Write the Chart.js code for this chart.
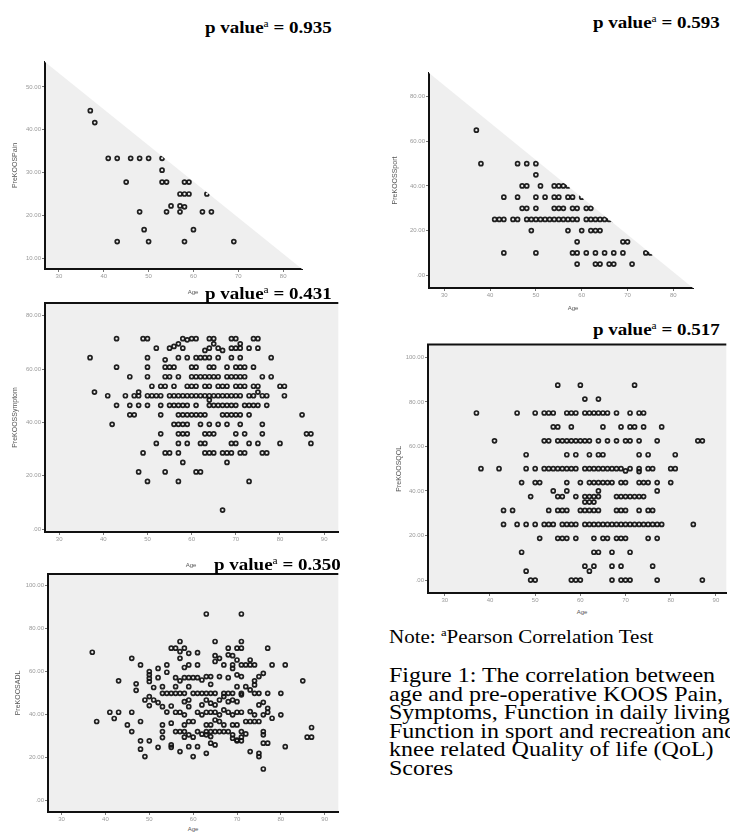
<!DOCTYPE html>
<html>
<head>
<meta charset="utf-8">
<script src="https://cdn.jsdelivr.net/npm/chart.js@4.4.1/dist/chart.umd.min.js"></script>
<style>
  body { margin: 0; width: 730px; height: 836px; background: #fff; position: relative; overflow: hidden; }
  .panel { position: absolute; }
  .serif { position: absolute; white-space: nowrap; line-height: 1; font-family: "Liberation Serif", "Times New Roman", serif;
           color: #000; transform-origin: 0 50%; transform: scaleY(0.85); }
  .pv { font-weight: bold; font-size: 19px; }
  .serif sup { font-size: 0.6em; font-weight: normal; vertical-align: 0.65em; line-height: 0; }
  .age { position: absolute; font: 6px "Liberation Sans", Arial, sans-serif; color: #555; transform: translate(-50%, -50%); }
</style>
</head>
<body>
<div class="panel" id="p1"><canvas id="c1"></canvas></div>
<div class="panel" id="p2"><canvas id="c2"></canvas></div>
<div class="panel" id="p3"><canvas id="c3"></canvas></div>
<div class="panel" id="p4"><canvas id="c4"></canvas></div>
<div class="panel" id="p5"><canvas id="c5"></canvas></div>
<div id="texts"></div>
<script>
'use strict';

// ── Data ─────────────────────────────────────────────────────────────────────

const pValues = ['0.935', '0.593', '0.431', '0.517', '0.350'];
const yTitles = ['PreKOOSPain', 'PreKOOSSport', 'PreKOOSSymptom', 'PreKOOSQOL', 'PreKOOSADL'];
const xTitle = 'Age';

// [age, score]
const painPoints = [
  [37,44.44],[38,41.67],[41,33.33],[43,33.33],[46,33.33],[48,33.33],[50,33.33],[53,33.33],
  [53,30.56],[45,27.78],[53,27.78],[54,27.78],[58,27.78],[59,27.78],[57,25],[58,25],[59,25],
  [63,25],[55,22.22],[57,22.22],[58,22.0],[48,20.83],[54,20.83],[57,20.83],[62,20.83],
  [64,20.83],[49,16.67],[60,16.67],[43,13.89],[50,13.89],[58,13.89],[69,13.89]
];

// [score, ages at that score]
const sportRows = [
  [65, [37]],
  [50, [38,46,48,50]],
  [45, [50]],
  [40, [47,48,51,54,55,56,57]],
  [35, [43,46,50,52,54,55,57,58,60]],
  [30, [47,48,50,54,55,56,58,59,61,62]],
  [25, [41,42,43,45,46,48,49,50,51,52,53,54,55,56,57,58,59,61,62,63,64,65,66,67]],
  [20, [49,57,60,62,63,64]],
  [15, [59,69,70]],
  [10, [43,50,58,59,61,63,65,67,69,74,75]],
  [5,  [59,63,64,66,67,71]]
];

const symptomRows = [
  [71.43, [43,49,50,58,60,61,64,65,69,70,74,75]],
  [71.0,  [59]],
  [69.5,  [57,65,71]],
  [68.5,  [56]],
  [67.86, [52,55,58,64,66,69,70,71,73,75]],
  [67.0,  [63,67]],
  [64.29, [37,50,57,59,61,62,63,64,66,69,71,78]],
  [63.5,  [54]],
  [60.71, [43,50,54,55,56,60,61,64,65,68,70,71,72,74]],
  [57.14, [46,50,54,55,57,60,61,62,63,64,65,66,68,69,70,71,72,76,78]],
  [53.57, [51,53,54,56,59,60,61,63,64,66,67,68,70,71,72,74,75,80,81]],
  [51.4,  [38,48,75]],
  [50,    [41,45,47,48,50,51,52,53,55,56,57,58,59,60,61,62,63,64,65,66,67,68,69,70,71,73,74,76,77,81]],
  [48.4,  [64]],
  [46.43, [43,46,48,50,53,55,56,57,58,59,61,64,65,66,67,68,69,70,72,73,74,75,77]],
  [42.86, [46,47,53,57,58,59,60,61,62,63,67,68,69,70,71,73,85]],
  [39.29, [42,56,57,58,59,62,64,66,68,71,76]],
  [35.71, [53,57,58,59,63,64,65,70,72,76,86,87]],
  [32.14, [52,57,59,62,63,69,70,73,75,80,87]],
  [28.57, [49,54,55,57,63,64,65,67,68,69,71,72,76,77]],
  [25,    [58,68]],
  [21.43, [48,54,61,62]],
  [17.86, [50,57,73]],
  [7.14,  [67]]
];

const qolRows = [
  [87.5,  [55,60,72]],
  [81.25, [61,64]],
  [75,    [37,46,50,52,53,54,57,58,59,61,62,63,64,65,66,68,71,73,74]],
  [68.75, [54,55,58,65,69,71,72,74,78]],
  [62.5,  [41,52,53,55,56,57,58,59,60,61,62,64,66,68,70,71,73,77,86,87]],
  [56.25, [48,57,59,62,64,65,73,75,81]],
  [50,    [38,42,48,50,52,53,54,55,56,57,58,59,61,62,63,64,65,66,67,68,69,71,73,75,76,80,81]],
  [49,    [70]],
  [48.7,  [73]],
  [43.75, [47,50,51,57,60,62,63,64,65,66,67,69,70,73,74,75,77,80]],
  [40,    [54,57,64,77]],
  [37.5,  [49,55,56,59,61,62,63,64,68,69,70,71,72,73,74]],
  [35,    [61,62,63]],
  [31.25, [43,45,53,55,56,57,60,61,62,63,64,68,69,70,73,75,76]],
  [25,    [43,46,48,50,52,53,54,56,57,58,59,61,62,63,64,65,66,67,68,69,70,71,72,73,74,75,76,77,78,85]],
  [18.75, [51,55,56,57,59,63,65,66,68,69,70,75,77]],
  [12.5,  [47,63,64,67,71]],
  [6.25,  [61,63,67,69,76]],
  [4,     [48,62]],
  [0,     [49,50,58,59,60,67,69,70,71,77,87]]
];

// [age, score]
const adlPoints = [
  [37,69.0],[38,36.8],[41,41.1],[42,38.2],[43,41.1],[43,55.7],[45,35.2],[46,66.2],[46,41.1],[46,32.1],
  [47,54.3],[47,51.3],[48,63.1],[48,36.8],[48,27.8],[48,23.9],[49,46.8],[49,20.5],[50,48.4],[50,44.2],
  [50,60.0],[50,58.5],[50,56.9],[50,55.4],[50,27.8],[51,52.6],[51,46.8],[52,61.5],[52,57.2],[52,45.6],
  [52,24.8],[53,53.0],[53,49.9],[53,43.7],[53,35.2],[53,32.1],[53,29.3],[54,63.1],[54,59.7],[54,41.2],
  [54,49.9],[55,49.9],[55,44.0],[55,36.0],[55,25.9],[55,24.8],[55,70.9],[56,70.9],[56,57.2],[56,53.0],
  [56,41.1],[56,32.1],[56,49.9],[57,74.0],[57,69.3],[57,66.2],[57,55.7],[57,49.9],[57,41.1],[57,32.1],
  [57,22.8],[58,70.9],[58,61.9],[58,57.2],[58,49.9],[58,46.0],[58,39.9],[58,35.2],[58,32.1],[58,29.5],
  [59,68.5],[59,63.1],[59,57.2],[59,53.0],[59,46.8],[59,43.7],[59,36.8],[59,30.6],[59,25.1],[60,57.2],
  [60,49.9],[60,36.8],[60,29.5],[60,20.5],[61,68.8],[61,63.1],[61,57.2],[61,49.9],[61,41.1],[61,32.1],
  [61,25.1],[62,56.1],[62,49.9],[62,44.5],[62,39.9],[62,30.9],
  [63,86.8],[71,86.8],[65,74.0],[71,74.0],[65,67.4],[65,64.7],[66,66.2],[68,70.9],[70,70.9],[71,70.9],
  [77,70.9],[68,67.8],[69,67.4],[67,63.1],[69,63.1],[69,61.5],[70,65.4],[71,63.1],[72,63.1],[73,63.1],
  [74,63.1],[73,65.4],[78,63.1],[81,63.1],[63,57.7],[64,57.7],[66,57.7],[68,57.2],[70,58.5],[71,57.7],
  [76,59.2],[75,57.7],[74,55.7],[74,53.8],[85,55.7],[64,54.1],[63,49.9],[64,49.9],[65,49.9],[67,49.9],
  [68,49.9],[69,49.9],[70,53.0],[71,49.9],[72,53.0],[73,51.5],[74,49.9],[75,49.9],[77,49.9],[80,49.9],
  [63,46.8],[64,45.3],[65,44.5],[66,46.8],[67,48.4],[68,46.0],[69,46.8],[70,46.0],[71,49.2],[75,44.5],
  [76,45.7],[63,41.1],[64,41.1],[65,41.1],[66,39.9],[67,42.2],[68,41.1],[69,39.9],[70,41.1],[71,41.1],
  [73,41.4],[74,39.9],[76,39.9],[77,41.1],[77,42.9],[78,38.3],[80,39.9],[63,35.2],[64,35.2],[65,37.5],
  [66,36.8],[67,35.2],[69,35.2],[70,35.2],[72,36.8],[73,36.8],[74,36.8],[75,36.8],[63,32.1],[64,32.1],
  [65,32.1],[66,32.1],[67,32.1],[68,32.1],[63,30.6],[64,29.8],[69,30.6],[70,28.2],[71,32.1],[71,29.5],
  [72,31.0],[76,32.1],[76,30.6],[64,26.7],[65,25.9],[69,29.0],[70,27.8],[71,27.8],[76,26.7],[77,26.7],
  [87,34.0],[86,29.5],[87,29.5],[73,22.8],[75,22.0],[75,20.5],[81,25.1],[76,14.7],[63,22.0]
];

const noteText = 'Pearson Correlation Test';
const captionLines = [
  'Figure 1: The correlation between',
  'age and pre-operative KOOS Pain,',
  'Symptoms, Function in daily living,',
  'Function in sport and recreation and',
  'knee related Quality of life (QoL)',
  'Scores'
];

const pairsToPoints = list => list.map(([x, y]) => ({ x, y }));
const rowsToPoints = rows => rows.flatMap(([y, ages]) => ages.map(x => ({ x, y })));

// ── Panel layout ─────────────────────────────────────────────────────────────
// box: container [left, top, width, height]; area: plot [left, top, right, bottom]

const panels = [
  { box: [0, 50, 310, 240],   area: [45, 62, 302, 269],   x: [26.9, 84.2],  y: [7.5, 55.8],   step: 10, titleX: 15, triangle: true,
    points: pairsToPoints(painPoints),  ageAt: [193, 292] },
  { box: [360, 60, 370, 245], area: [429, 73, 693, 288],  x: [26.66, 84.3], y: [-5.7, 90.6],  step: 20, titleX: 35, triangle: true,
    points: rowsToPoints(sportRows),    ageAt: [573, 308] },
  { box: [0, 295, 342, 255],  area: [45, 303, 342, 532],  x: [26.8, 93.2],  y: [-1.1, 84.8],  step: 20, titleX: 15, frame: true,
    points: rowsToPoints(symptomRows),  ageAt: [191, 565] },
  { box: [360, 340, 370, 265],area: [428, 344, 730, 593], x: [26.28, 92.3], y: [-5.8, 105.7], step: 20, titleX: 39, frame: true,
    points: rowsToPoints(qolRows),      ageAt: [582, 612] },
  { box: [0, 566, 342, 260],  area: [48, 574, 342, 812],  x: [26.9, 93.1],  y: [-5.3, 105.4], step: 20, titleX: 18, frame: true,
    points: pairsToPoints(adlPoints),   ageAt: [193, 829] }
];

// ── Plugins ──────────────────────────────────────────────────────────────────

const plotBg = {
  id: 'plotBg',
  beforeDraw(chart) {
    const { ctx, chartArea: a } = chart;
    ctx.save();
    ctx.fillStyle = '#efefef';
    ctx.fillRect(a.left, a.top, a.right - a.left, a.bottom - a.top);
    ctx.restore();
  },
  afterDatasetsDraw(chart, args, opts) {
    const { ctx, chartArea: a } = chart;
    ctx.save();
    if (opts.triangle) {
      // the white wedge that hides the upper-right half of the plot
      ctx.fillStyle = '#fff';
      ctx.beginPath();
      ctx.moveTo(a.left, a.top);
      ctx.lineTo(a.right, a.bottom);
      ctx.lineTo(a.right + 4, a.bottom);
      ctx.lineTo(a.right + 4, a.top - 4);
      ctx.lineTo(a.left, a.top - 4);
      ctx.closePath();
      ctx.fill();
    }
    if (opts.frame) {
      ctx.strokeStyle = '#111';
      ctx.lineWidth = 2;
      ctx.beginPath();
      ctx.moveTo(a.left - 1, a.top);
      ctx.lineTo(a.right, a.top);
      ctx.stroke();
    }
    ctx.restore();
  }
};

// ── Charts ───────────────────────────────────────────────────────────────────

const tickFont = { size: 6, family: "'Liberation Sans', Arial, sans-serif" };

panels.forEach((p, i) => {
  const [cx, cy, cw, ch] = p.box;
  const [L, T, R, B] = p.area;
  const wrap = document.getElementById('p' + (i + 1));
  Object.assign(wrap.style, { left: cx + 'px', top: cy + 'px', width: cw + 'px', height: ch + 'px' });

  const yWidth = L - cx, xHeight = cy + ch - B;

  new Chart(document.getElementById('c' + (i + 1)), {
    type: 'scatter',
    data: { datasets: [{
      data: p.points,
      pointStyle: 'circle',
      pointRadius: 2,
      pointHoverRadius: 2,
      borderWidth: 1.7,
      borderColor: 'rgba(20,20,20,0.95)',
      backgroundColor: 'rgba(0,0,0,0)',
    }]},
    options: {
      responsive: true, maintainAspectRatio: false, animation: false,
      layout: { padding: { left: 0, top: T - cy, right: cx + cw - R, bottom: 0 } },
      plugins: {
        legend: { display: false }, tooltip: { enabled: false },
        plotBg: { triangle: !!p.triangle, frame: !!p.frame },
      },
      scales: {
        x: {
          type: 'linear', min: p.x[0], max: p.x[1],
          afterFit: s => { s.height = xHeight; },
          grid: { display: true, drawOnChartArea: false, drawTicks: true, tickLength: 3, color: '#777' },
          border: { display: true, color: '#111', width: 2 },
          ticks: { stepSize: 10, includeBounds: false, color: '#999', font: tickFont, padding: 1, maxRotation: 0 },
        },
        y: {
          type: 'linear', min: p.y[0], max: p.y[1],
          afterFit: s => { s.width = yWidth; },
          grid: { display: true, drawOnChartArea: false, drawTicks: true, tickLength: 3, color: '#777' },
          border: { display: true, color: '#111', width: 2 },
          ticks: { stepSize: p.step, includeBounds: false, color: '#999', font: tickFont, padding: 1,
                   callback: v => v === 0 ? '.00' : v.toFixed(2) },
          title: { display: true, text: yTitles[i], color: '#555', font: { size: 7, family: tickFont.family },
                   padding: { top: p.titleX - 4.2, bottom: 0 } },
        },
      },
    },
    plugins: [plotBg],
  });
});

// ── Text ─────────────────────────────────────────────────────────────────────

const texts = document.getElementById('texts');
function addText(html, cls, left, centerY, size) {
  const d = document.createElement('div');
  d.className = cls;
  d.innerHTML = html;
  d.style.left = left + 'px';
  d.style.top = (centerY - size / 2) + 'px';
  d.style.fontSize = size + 'px';
  texts.appendChild(d);
}

const pvPos = [[205, 27], [593, 22], [205, 293], [593, 329], [214, 564]];
pValues.forEach((v, i) => addText(`p value<sup>a</sup> = ${v}`, 'serif pv', pvPos[i][0], pvPos[i][1], 19));

panels.forEach(p => {
  const s = document.createElement('div');
  s.className = 'age';
  s.textContent = xTitle;
  s.style.left = p.ageAt[0] + 'px';
  s.style.top = p.ageAt[1] + 'px';
  texts.appendChild(s);
});

addText(`Note: <sup>a</sup>${noteText}`, 'serif', 389, 637, 21);
const lineY = [675, 693.5, 712, 730.5, 749, 767.5];
captionLines.forEach((t, i) => addText(t, 'serif', 389, lineY[i], 24));
</script>
</body>
</html>
